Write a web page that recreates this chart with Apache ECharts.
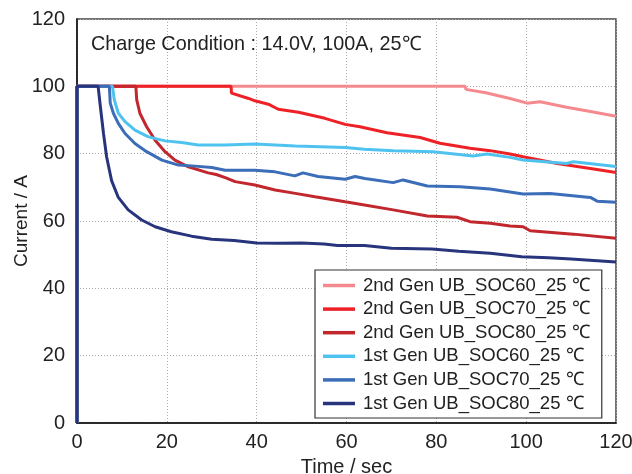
<!DOCTYPE html>
<html>
<head>
<meta charset="utf-8">
<script src="https://cdn.jsdelivr.net/npm/echarts@6/dist/echarts.min.js"></script>
<style>html,body{margin:0;padding:0;background:#fff}#c{width:632px;height:474px}</style>
</head>
<body>
<div id="c"></div>
<script>
var seriesNames = [
  '2nd Gen UB_SOC60_25 \u2103',
  '2nd Gen UB_SOC70_25 \u2103',
  '2nd Gen UB_SOC80_25 \u2103',
  '1st Gen UB_SOC60_25 \u2103',
  '1st Gen UB_SOC70_25 \u2103',
  '1st Gen UB_SOC80_25 \u2103'
];
var xTicks = [0, 20, 40, 60, 80, 100, 120];
var yTicks = [0, 20, 40, 60, 80, 100, 120];

var gen2Soc60 = [[0,0],[0,100],[86.4,100],[86.6,99.1],[91,98.1],[96.4,96.4],[100.2,95],[103.1,95.4],[109,93.8],[114.3,92.5],[120,91.1]];
var gen2Soc70 = [[0,0],[0,100],[34.3,100],[34.4,98],[38.2,96.4],[39.6,95.7],[42.6,94.7],[44.8,93.2],[49.3,92.3],[55.2,90.5],[59.7,88.7],[63,88],[69,86.2],[76.4,84.8],[80.8,83.1],[87.5,81.6],[92,80.9],[96.4,79.9],[99.3,79.1],[106.9,77.1],[114.3,75.6],[120,74.4]];
var gen2Soc80 = [[0,0],[0,100],[13.1,100],[13.3,96],[14,92],[15.5,88],[17.4,84],[19.6,80.6],[21.8,78.1],[24.8,76.1],[29.2,74.3],[31,73.8],[33,72.9],[35.2,71.7],[39.6,70.7],[44.1,69.2],[48.6,68.2],[53,67.2],[59.7,65.7],[63,65],[70.4,63.3],[78,61.5],[84.6,61.1],[87.5,59.8],[92,59.3],[96.4,58.5],[99.3,58.3],[100.9,57.1],[110.5,56.1],[120,54.9]];
var gen1Soc60 = [[0,0],[0,100],[7.9,100],[8.3,96],[9.2,92],[10.7,89.5],[12.9,87],[15.9,85],[19.6,83.8],[23.3,83.3],[27,82.6],[33,82.6],[39.6,82.9],[48.6,82.3],[59.7,81.8],[64,81.3],[70.4,80.9],[79.3,80.6],[88.2,79.3],[91.3,79.9],[96.4,78.9],[99.3,78.1],[109,77.1],[110.5,77.6],[120,76.2]];
var gen1Soc70 = [[0,0],[0,100],[7.2,100],[7.4,95],[8.1,92],[9.2,89],[10.7,86],[12.9,83],[15.5,80.6],[18.9,78.1],[22.6,76.6],[26.3,76.3],[30,75.9],[33,75.1],[39.6,75.1],[44.1,74.6],[48.5,73.4],[50.3,74.3],[53.7,73.2],[59.7,72.4],[61.9,73.2],[64.1,72.6],[70.4,71.4],[72.6,72.2],[78,70.4],[85.3,70.2],[92,69.5],[96.4,68.6],[99.3,68],[105.3,68.2],[114.3,67],[115.8,65.9],[120,65.6]];
var gen1Soc80 = [[0,0],[0,100],[4.7,100],[5.2,94],[5.9,86],[6.6,79],[7.7,72],[9.2,67],[11.4,63.3],[14.4,60.3],[17.4,58.3],[21,56.8],[25.5,55.5],[30,54.6],[35,54.2],[40,53.5],[45,53.4],[50,53.5],[55,53.2],[58,52.7],[64,52.7],[70,51.9],[79,51.7],[85,51],[92,50.4],[99,49.4],[105,49.1],[110,48.7],[115,48.3],[120,47.8]];

var seriesData = [gen2Soc60, gen2Soc70, gen2Soc80, gen1Soc60, gen1Soc70, gen1Soc80];
var colors = ['#F58A8E', '#EE2127', '#C1272D', '#4EC3F0', '#3B6DB8', '#28357D'];
var FONT = '"Liberation Sans", Arial, sans-serif';

var chart = echarts.init(document.getElementById('c'), null, {renderer: 'canvas'});
chart.setOption({
  animation: false,
  backgroundColor: '#fff',
  title: {
    text: 'Charge Condition : 14.0V, 100A, 25\u2103',
    left: 86, top: 29.5,
    textStyle: {fontFamily: FONT, fontSize: 19.8, fontWeight: 'normal', color: '#222'}
  },
  grid: {left: 77, right: 16, top: 19, bottom: 51, show: true, borderColor: '#444', borderWidth: 1.5,
    backgroundColor: 'transparent', containLabel: false, outerBoundsMode: 'none'},
  legend: {
    orient: 'vertical',
    left: 315, top: 270,
    data: seriesNames,
    icon: 'rect',
    itemWidth: 32, itemHeight: 3.5, itemGap: 4.6,
    padding: [6, 12, 5, 8],
    borderColor: '#333', borderWidth: 1.2,
    backgroundColor: '#fff',
    textStyle: {fontFamily: FONT, fontSize: 18.5, color: '#222', padding: [0, 0, 0, 3]}
  },
  xAxis: {
    type: 'value', min: xTicks[0], max: xTicks[xTicks.length - 1], interval: 20,
    name: 'Time / sec', nameLocation: 'middle', nameGap: 34,
    nameTextStyle: {fontFamily: FONT, fontSize: 20, color: '#222'},
    axisLine: {show: true, lineStyle: {color: '#111', width: 1.5}},
    axisTick: {show: false},
    axisLabel: {fontFamily: FONT, fontSize: 20, color: '#222', margin: 9},
    splitLine: {show: true, lineStyle: {color: '#aaa', type: [1, 2], width: 1}}
  },
  yAxis: {
    type: 'value', min: yTicks[0], max: yTicks[yTicks.length - 1], interval: 20,
    name: 'Current / A', nameLocation: 'middle', nameGap: 46, nameRotate: 90,
    nameMoveOverlap: false,
    nameTextStyle: {fontFamily: FONT, fontSize: 19, color: '#222'},
    axisLine: {show: true, lineStyle: {color: '#111', width: 1.5}},
    axisTick: {show: false},
    axisLabel: {fontFamily: FONT, fontSize: 20, color: '#222', margin: 12},
    splitLine: {show: true, lineStyle: {color: '#aaa', type: [1, 2], width: 1}}
  },
  series: seriesNames.map(function (n, i) {
    return {
      name: n, type: 'line', data: seriesData[i],
      symbol: 'none', smooth: false,
      lineStyle: {color: colors[i], width: 3},
      itemStyle: {color: colors[i]},
      z: 2 + i
    };
  })
});
</script>
</body>
</html>
